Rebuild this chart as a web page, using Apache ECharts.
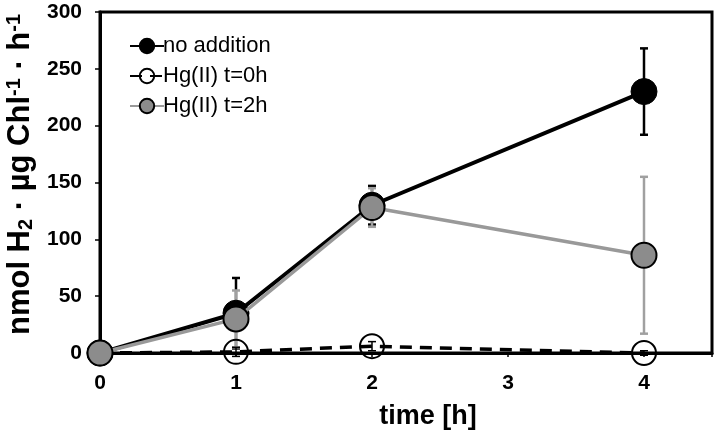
<!DOCTYPE html>
<html>
<head>
<meta charset="utf-8">
<script src="https://cdn.jsdelivr.net/npm/echarts@6/dist/echarts.min.js"></script>
<style>html,body{margin:0;padding:0;background:#fff}#c{width:717px;height:432px}</style>
</head>
<body>
<div id="c"></div>
<script>
var times = [0, 1, 2, 4];
var xTicks = [0, 1, 2, 3, 4];
var yTicks = [0, 50, 100, 150, 200, 250, 300];
var noAddition = [0, 35, 130, 230];
var noAdditionErr = [0, 31, 17, 38];
var hg0 = [0, 1, 6, 0];
var hg0Err = [0, 4, 4, 2];
var hg2 = [0, 30, 128, 86];
var hg2Err = [0, 25, 17, 69];

function pairs(v){ return times.map(function(t,i){ return [t, v[i]]; }); }
function errData(v, e){ return times.map(function(t,i){ return [t, v[i]-e[i], v[i]+e[i]]; }); }
function errSeries(v, e, color, w){
  return {
    type: 'custom', z: 1, silent: true,
    data: errData(v, e),
    renderItem: function(params, api){
      var x = api.value(0);
      var lo = api.coord([x, api.value(1)]);
      var hi = api.coord([x, api.value(2)]);
      var cw = 4;
      return {type: 'group', children: [
        {type: 'line', shape: {x1: lo[0], y1: lo[1], x2: hi[0], y2: hi[1]}, style: {stroke: color, lineWidth: w}},
        {type: 'line', shape: {x1: lo[0]-cw, y1: lo[1], x2: lo[0]+cw, y2: lo[1]}, style: {stroke: color, lineWidth: w}},
        {type: 'line', shape: {x1: hi[0]-cw, y1: hi[1], x2: hi[0]+cw, y2: hi[1]}, style: {stroke: color, lineWidth: w}}
      ]};
    }
  };
}
var F = 'Liberation Sans, Arial, sans-serif';
var chart = echarts.init(document.getElementById('c'));
chart.setOption({
  animation: false,
  grid: {left: 100, top: 12, right: 5, bottom: 79, outerBoundsMode: 'none', containLabel: false, show: true, borderColor: '#000', borderWidth: 3, backgroundColor: 'transparent'},
  legend: {
    left: 124, top: 30, orient: 'vertical', itemGap: 8, itemWidth: 34, itemHeight: 18,
    textStyle: {fontFamily: F, fontSize: 22, color: '#000', padding: [0,0,0,-6]},
    data: ['no addition', 'Hg(II) t=0h', 'Hg(II) t=2h']
  },
  xAxis: {
    type: 'value', min: 0, max: 4.5, interval: 1,
    name: 'time [h]', nameLocation: 'middle', nameGap: 50,
    nameTextStyle: {fontFamily: F, fontWeight: 'bold', fontSize: 27, color: '#000', padding: [0,0,0,44]},
    axisLine: {lineStyle: {color: '#000', width: 3}},
    axisTick: {show: true, inside: false, length: 4, lineStyle: {color: '#000', width: 1.5}}, splitLine: {show: false},
    axisLabel: {fontFamily: F, fontWeight: 'bold', fontSize: 21, color: '#000', margin: 20,
      formatter: function(v){ return xTicks.indexOf(v) >= 0 ? String(v) : ''; }}
  },
  yAxis: {
    type: 'value', min: 0, max: 300, interval: 50,
    name: '{b|nmol H}{sub|2}{b| · µg Chl}{sup|-1}{b| · h}{sup|-1}', nameLocation: 'middle', nameGap: 52,
    nameTextStyle: {
      fontFamily: F, fontWeight: 'bold', fontSize: 31, color: '#000', padding: [0,0,0,16],
      rich: {
        b: {fontFamily: F, fontWeight: 'bold', fontSize: 31, color: '#000'},
        sub: {fontFamily: F, fontWeight: 'bold', fontSize: 20, color: '#000', verticalAlign: 'bottom', padding: [12,0,0,0]},
        sup: {fontFamily: F, fontWeight: 'bold', fontSize: 20, color: '#000', verticalAlign: 'top', padding: [0,0,12,0]}
      }
    },
    axisLine: {show: true, lineStyle: {color: '#000', width: 3}},
    axisTick: {show: true, inside: false, length: 5, lineStyle: {color: '#000', width: 1.5}}, splitLine: {show: false},
    axisLabel: {fontFamily: F, fontWeight: 'bold', fontSize: 21, color: '#000', margin: 18,
      formatter: function(v){ return yTicks.indexOf(v) >= 0 ? String(v) : ''; }}
  },
  series: [
    errSeries(noAddition, noAdditionErr, '#000', 2.5),
    errSeries(hg2, hg2Err, '#a0a0a0', 2.5),
    errSeries(hg0, hg0Err, '#000', 1.5),
    {name: 'no addition', type: 'line', z: 3, data: pairs(noAddition), symbol: 'circle', symbolSize: 26,
      lineStyle: {color: '#000', width: 4}, itemStyle: {color: '#000', borderColor: '#000', borderWidth: 1}},
    {name: 'Hg(II) t=0h', type: 'line', z: 4, data: pairs(hg0), symbol: 'circle', symbolSize: 24,
      lineStyle: {color: '#000', width: 3.5, type: [12, 8]}, itemStyle: {color: 'rgba(255,255,255,0)', borderColor: '#000', borderWidth: 2}},
    {name: 'Hg(II) t=2h', type: 'line', z: 5, data: pairs(hg2), symbol: 'circle', symbolSize: 25,
      lineStyle: {color: '#999', width: 3.5}, itemStyle: {color: '#8c8c8c', borderColor: '#000', borderWidth: 2}}
  ]
});
</script>
</body>
</html>
